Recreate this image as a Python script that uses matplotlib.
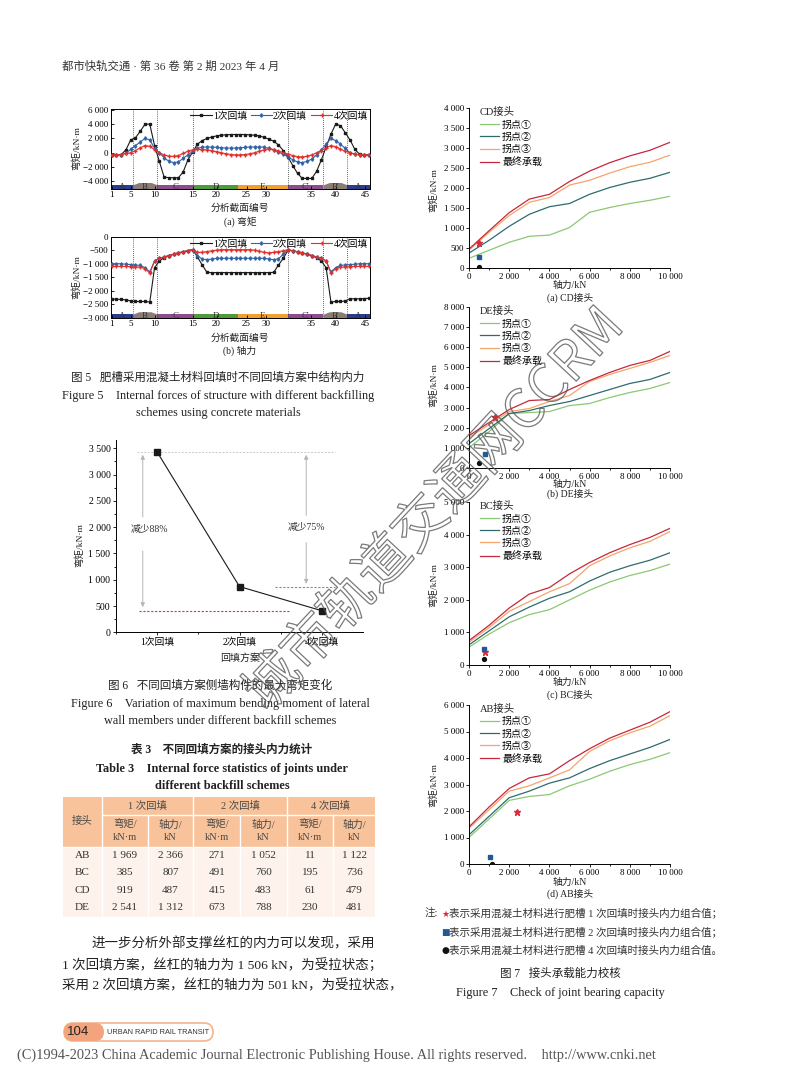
"""
Journal page: fig 5 (section forces), fig 6 (max moment), table 3, fig 7 (joint capacity)
"""

import numpy as np
import matplotlib
matplotlib.use("Agg")
import matplotlib.pyplot as plt
from matplotlib import patheffects
from matplotlib.patches import Rectangle, FancyBboxPatch
from matplotlib.ticker import FuncFormatter, MultipleLocator

W, H = 800, 1086
plt.rcParams["font.family"] = ["Liberation Serif", "Noto Sans CJK SC", "DejaVu Sans"]
plt.rcParams["axes.linewidth"] = 0.7
plt.rcParams["xtick.major.width"] = 0.6
plt.rcParams["ytick.major.width"] = 0.6

# ---- fig 5 data: one value per plotted section point ----
SECTION_IDX = np.arange(55)
XTICK_POS = [0, 4, 9, 17, 22, 28.3, 32.3, 41.9, 47, 53.2]
XTICK_LAB = ["1", "5", "10", "15", "20", "25", "30", "35", "40", "45"]
REGION_EDGES = [-0.2, 4.4, 9.57, 17.12, 26.55, 36.9, 44.37, 49.4, 54.2]
REGION_NAMES = ["A", "B", "C", "D", "E", "C'", "B'", "A"]

M1 = [-300, -300, -250, 400, 1800, 2100, 3000, 4000, 4000, 1000,
      -1200, -3400, -3500, -3500, -3500, -2700, -1000, 100, 1200, 1700,
      2000, 2200, 2350, 2450, 2500, 2550, 2550, 2550, 2550, 2500,
      2450, 2350, 2150, 1900, 1600, 1100, 300, -600, -1800, -2900,
      -3600, -3600, -3600, -2600, -1000, 800, 2600, 4000, 3800, 2800,
      1800, 500, -200, -350, -350]
M2 = [-300, -300, -250, -100, 500, 1000, 1500, 2000, 1800, 600,
      0, -700, -1200, -1400, -1300, -800, -300, 200, 600, 800,
      800, 800, 750, 700, 650, 650, 650, 700, 750, 800,
      800, 800, 800, 600, 400, 100, -200, -600, -1000, -1300,
      -1400, -1200, -900, -300, 400, 1200, 2000, 1700, 1200, 600,
      0, -200, -300, -300, -300]
M4 = [-300, -300, -250, -100, 0, 300, 700, 1000, 900, 400,
      0, -300, -500, -500, -400, -100, 200, 400, 500, 450,
      400, 300, 150, 0, -150, -250, -300, -300, -250, -150,
      0, 200, 400, 550, 450, 250, 0, -200, -400, -550,
      -600, -500, -300, 0, 300, 700, 1000, 850, 500, 200,
      0, -200, -300, -300, -300]
N1 = [-2300, -2320, -2320, -2340, -2380, -2400, -2400, -2400, -2420, -1150,
      -900, -780, -700, -650, -600, -560, -520, -480, -750, -1050,
      -1320, -1330, -1330, -1330, -1330, -1330, -1330, -1330, -1330, -1330,
      -1330, -1330, -1330, -1330, -1320, -1050, -800, -500, -520, -560,
      -600, -650, -700, -780, -900, -1150, -2420, -2400, -2400, -2380,
      -2300, -2300, -2300, -2290, -2280]
N2 = [-1000, -1000, -1000, -1020, -1030, -1050, -1060, -1150, -1300, -900,
      -800, -750, -700, -650, -600, -560, -520, -480, -700, -830,
      -850, -830, -800, -800, -800, -800, -800, -800, -800, -800,
      -800, -800, -800, -830, -850, -820, -650, -480, -520, -560,
      -600, -650, -700, -750, -800, -900, -1300, -1150, -1060, -1050,
      -1030, -1020, -1000, -1000, -1000]
N4 = [-1100, -1100, -1100, -1100, -1110, -1120, -1130, -1180, -1350, -900,
      -800, -750, -700, -650, -600, -560, -520, -480, -580, -580,
      -550, -520, -500, -480, -480, -480, -480, -480, -480, -480,
      -500, -540, -580, -600, -580, -550, -520, -480, -520, -560,
      -600, -650, -700, -750, -800, -900, -1350, -1180, -1130, -1120,
      -1110, -1100, -1100, -1100, -1100]

# ---- fig 6 data ----
SCHEMES = ["1次回填", "2次回填", "4次回填"]
MAX_M = [3430, 870, 410]

# ---- table 3 ----
JOINTS = ["AB", "BC", "CD", "DE"]
TABLE_ROWS = [
    ["1 969", "2 366", "271", "1 052", "11", "1 122"],
    ["385", "807", "491", "760", "195", "736"],
    ["919", "487", "415", "483", "61", "479"],
    ["2 541", "1 312", "673", "788", "230", "481"],
]

# ---- fig 7 data: moment capacity vs axial force ----
AXIAL = [0, 1000, 2000, 3000, 4000, 5000, 6000, 7000, 8000, 9000, 10000]
CURVE_NAMES = ["拐点①", "拐点②", "拐点③", "最终承载"]
CD = [[250, 450, 650, 800, 830, 1020, 1400, 1520, 1620, 1700, 1800],
      [380, 700, 1050, 1350, 1540, 1620, 1850, 2020, 2150, 2250, 2400],
      [450, 900, 1320, 1650, 1770, 2080, 2200, 2380, 2540, 2650, 2830],
      [480, 940, 1390, 1730, 1850, 2170, 2430, 2640, 2810, 2950, 3150]]
DE = [[1000, 1800, 2700, 2750, 2800, 3100, 3200, 3500, 3750, 3950, 4250],
      [1200, 1950, 2700, 2850, 3100, 3300, 3600, 3900, 4200, 4400, 4750],
      [1500, 2150, 2800, 2950, 3300, 3600, 4300, 4650, 4950, 5250, 5600],
      [1600, 2250, 2900, 3350, 3400, 3900, 4350, 4750, 5100, 5350, 5800]]
BC = [[550, 950, 1300, 1550, 1700, 2000, 2300, 2550, 2750, 2900, 3100],
      [620, 1050, 1480, 1780, 2050, 2250, 2580, 2850, 3050, 3220, 3450],
      [700, 1150, 1650, 1950, 2250, 2500, 3050, 3350, 3600, 3800, 4100],
      [750, 1220, 1750, 2180, 2380, 2800, 3150, 3450, 3700, 3920, 4200]]
AB = [[1000, 1700, 2400, 2550, 2620, 2950, 3200, 3500, 3750, 3950, 4200],
      [1100, 1800, 2500, 2750, 3050, 3250, 3600, 3900, 4150, 4400, 4700],
      [1350, 2050, 2750, 2950, 3250, 3550, 4250, 4650, 4950, 5200, 5600],
      [1400, 2150, 2850, 3250, 3400, 3900, 4350, 4750, 5050, 5350, 5750]]
# joint force points (axial, moment) for backfill 1, 2, 4
CD_PTS = [(490, 620), (490, 270), (480, 40)]
DE_PTS = [(1312, 2541), (788, 673), (481, 230)]
BC_PTS = [(807, 385), (760, 491), (736, 195)]
AB_PTS = [(2366, 1969), (1052, 271), (1122, 11)]

fig = plt.figure(figsize=(W / 100, H / 100), dpi=100)


def px_axes(left, top, right, bottom, **kw):
    return fig.add_axes([left / W, 1 - bottom / H, (right - left) / W, (bottom - top) / H], **kw)


def ftext(x, y, s, **kw):
    kw.setdefault("ha", "center")
    kw.setdefault("va", "center")
    kw.setdefault("color", "#222222")
    fig.text(x / W, 1 - y / H, s, **kw)


def thousands(v, _pos):
    s = f"{abs(int(round(v))):,}".replace(",", " ")
    return ("−" if v < 0 else "") + s


FMT = FuncFormatter(thousands)

# header
ftext(62, 66, "都市快轨交通 · 第 36 卷 第 2 期 2023 年 4 月", ha="left", fontsize=8.2,
      color="#333333")

# ---------------- figure 5 ----------------
BAND_COLORS = ["#2b3c8e", "#8b7d74", "#8e4c8e", "#4e9a3c", "#f0a02c", "#8e4c8e", "#8b7d74", "#2b3c8e"]


def draw_bands(ax, y0, y1, bump):
    for i, name in enumerate(REGION_NAMES):
        x0, x1 = REGION_EDGES[i], REGION_EDGES[i + 1]
        if name.startswith("B"):
            xs = [x0, x0 + 1.3, x1 - 1.3, x1]
            ys = [y1, y1 + bump, y1 + bump, y1]
        else:
            xs, ys = [x0, x1], [y1, y1]
        ax.fill_between(xs, y0, ys, color=BAND_COLORS[i], lw=0, zorder=1)
        ax.text((x0 + x1) / 2, (y0 + y1) / 2, name, ha="center", va="center",
                fontsize=6.5, color="#333333", zorder=2)


def fig5_panel(ax, s1, s2, s4, ylim, ticks, band):
    ax.plot(SECTION_IDX, s1, color="#1a1a1a", lw=0.8, marker="s", ms=1.8, label="1次回填", zorder=4)
    ax.plot(SECTION_IDX, s2, color="#2f64a6", lw=0.8, marker="d", ms=1.8, label="2次回填", zorder=4)
    ax.plot(SECTION_IDX, s4, color="#e0302c", lw=0.8, marker="+", ms=2.5, label="4次回填", zorder=4)
    for xv in REGION_EDGES[1:4] + REGION_EDGES[5:8]:
        ax.axvline(xv, color="#333333", lw=0.6, ls=(0, (1, 1.5)), zorder=3)
    draw_bands(ax, ylim[0], band[0], band[1])
    ax.set_xlim(REGION_EDGES[0], REGION_EDGES[-1])
    ax.set_ylim(*ylim)
    ax.set_xticks(XTICK_POS)
    ax.set_xticklabels(XTICK_LAB)
    ax.set_yticks(ticks)
    ax.yaxis.set_major_formatter(FMT)
    ax.tick_params(direction="in", length=2, labelsize=6.5, pad=1.5)
    ax.legend(loc="upper right", ncol=3, frameon=False, fontsize=7, handlelength=2.2,
              columnspacing=0.4, handletextpad=0.1, borderaxespad=0.15, borderpad=0.1)


ax5a = px_axes(110.7, 109, 370, 189)
fig5_panel(ax5a, M1, M2, M4, (-5080, 6120), [-4000, -2000, 0, 2000, 4000, 6000], (-4500, 330))
ftext(76, 148, "弯矩/kN·m", rotation=90, fontsize=6.8)
ftext(240, 208, "分析截面编号", fontsize=7)
ftext(240, 222, "(a) 弯矩", fontsize=7)

ax5b = px_axes(110.7, 236.7, 370, 317.7)
fig5_panel(ax5b, N1, N2, N4, (-3000, 0), np.arange(-3000, 1, 500), (-2870, 90))
ftext(76, 277, "弯矩/kN·m", rotation=90, fontsize=6.8)
ftext(240, 338, "分析截面编号", fontsize=7)
ftext(240, 351, "(b) 轴力", fontsize=7)

ftext(218, 378, "图 5   肥槽采用混凝土材料回填时不同回填方案中结构内力", fontsize=8.3)
ftext(218, 396, "Figure 5    Internal forces of structure with different backfilling", fontsize=8.8)
ftext(218, 413, "schemes using concrete materials", fontsize=8.8)

# ---------------- figure 6 ----------------
ax6 = px_axes(116, 440, 363, 632.3)
xc = np.arange(len(SCHEMES))
ax6.plot(xc, MAX_M, color="#1a1a1a", lw=0.8, marker="s", ms=4.5, zorder=4)
ax6.plot([-0.25, 2.155], [MAX_M[0]] * 2, color="#c8c8c8", lw=0.7, ls=(0, (2, 1.5)))
ax6.plot([-0.22, 1.6], [MAX_M[2]] * 2, color="#d03c3c", lw=0.8, ls=(0, (2, 1.5)))
ax6.plot([1.43, 2.155], [MAX_M[1]] * 2, color="#6f8fb0", lw=0.8, ls=(0, (2, 1.5)))
arrow = dict(arrowstyle="-|>", color="#b5b5b5", lw=0.7, mutation_scale=6)
ax6.annotate("", xy=(-0.175, MAX_M[0]), xytext=(-0.175, 2140), arrowprops=arrow)
ax6.annotate("", xy=(-0.175, MAX_M[2] + 15), xytext=(-0.175, 1600), arrowprops=arrow)
ax6.annotate("", xy=(1.81, MAX_M[0]), xytext=(1.81, 2170), arrowprops=arrow)
ax6.annotate("", xy=(1.81, MAX_M[1]), xytext=(1.81, 1760), arrowprops=arrow)
ax6.text(-0.1, 1950, "减少88%", ha="center", va="center", fontsize=7, color="#333333")
ax6.text(1.81, 2000, "减少75%", ha="center", va="center", fontsize=7, color="#333333")
ax6.set_xlim(-0.5, 2.5)
ax6.set_ylim(0, 3658)
ax6.set_xticks(xc)
ax6.set_xticklabels(SCHEMES)
ax6.set_xticks([-0.5, 0.5, 1.5], minor=True)
ax6.set_yticks(np.arange(0, 3501, 500))
ax6.yaxis.set_major_formatter(FMT)
ax6.yaxis.set_minor_locator(MultipleLocator(250))
for side in ("top", "right"):
    ax6.spines[side].set_visible(False)
ax6.tick_params(direction="out", length=2.5, labelsize=7, pad=1.5)
ax6.tick_params(which="minor", direction="out", length=1.5)
ftext(79, 545, "弯矩/kN·m", rotation=90, fontsize=6.8)
ftext(240, 658, "回填方案", fontsize=7.2)

ftext(220, 686, "图 6   不同回填方案侧墙构件的最大弯矩变化", fontsize=8.3)
ftext(220, 704, "Figure 6    Variation of maximum bending moment of lateral", fontsize=8.8)
ftext(220, 721, "wall members under different backfill schemes", fontsize=8.8)

# ---------------- table 3 ----------------
ftext(222, 750, "表 3    不同回填方案的接头内力统计", fontsize=8.3, fontweight="bold")
ftext(222, 769, "Table 3    Internal force statistics of joints under", fontsize=8.8, fontweight="bold")
ftext(222, 786, "different backfill schemes", fontsize=8.8, fontweight="bold")

COL_EDGES = [62.7, 101.7, 147.7, 193.3, 240, 286.7, 333.3, 375]
ROW_EDGES = [796.7, 815, 846.7, 864.2, 881.7, 899.2, 916.7]
tab = px_axes(COL_EDGES[0], ROW_EDGES[0], COL_EDGES[-1], ROW_EDGES[-1])
tab.set_xlim(COL_EDGES[0], COL_EDGES[-1])
tab.set_ylim(ROW_EDGES[-1], ROW_EDGES[0])
tab.axis("off")
tab.add_patch(Rectangle((COL_EDGES[0], ROW_EDGES[0]), COL_EDGES[-1] - COL_EDGES[0],
                        ROW_EDGES[2] - ROW_EDGES[0], color="#f8c39a", lw=0))
tab.add_patch(Rectangle((COL_EDGES[0], ROW_EDGES[2]), COL_EDGES[-1] - COL_EDGES[0],
                        ROW_EDGES[-1] - ROW_EDGES[2], color="#fdf3ec", lw=0))
WL = dict(color="white", lw=1.0)
tab.plot([COL_EDGES[1]] * 2, [ROW_EDGES[0], ROW_EDGES[-1]], **WL)
tab.plot([COL_EDGES[1], COL_EDGES[-1]], [ROW_EDGES[1]] * 2, **WL)
tab.plot([COL_EDGES[0], COL_EDGES[-1]], [ROW_EDGES[2]] * 2, **WL)
for c in (3, 5):
    tab.plot([COL_EDGES[c]] * 2, [ROW_EDGES[0], ROW_EDGES[-1]], **WL)
for c in (2, 4, 6):
    tab.plot([COL_EDGES[c]] * 2, [ROW_EDGES[1], ROW_EDGES[-1]], **WL)
HK = dict(ha="center", va="center", fontsize=7.5, color="#4a4a4a")
tab.text((COL_EDGES[0] + COL_EDGES[1]) / 2, 821, "接头", **HK)
for g, name in enumerate(["1 次回填", "2 次回填", "4 次回填"]):
    tab.text((COL_EDGES[1 + 2 * g] + COL_EDGES[3 + 2 * g]) / 2, 805.8, name, **HK)
    tab.text((COL_EDGES[1 + 2 * g] + COL_EDGES[2 + 2 * g]) / 2, 824.5, "弯矩/", **HK)
    tab.text((COL_EDGES[1 + 2 * g] + COL_EDGES[2 + 2 * g]) / 2, 837.5, "kN·m", **HK)
    tab.text((COL_EDGES[2 + 2 * g] + COL_EDGES[3 + 2 * g]) / 2, 824.5, "轴力/", **HK)
    tab.text((COL_EDGES[2 + 2 * g] + COL_EDGES[3 + 2 * g]) / 2, 837.5, "kN", **HK)
for r, (joint, row) in enumerate(zip(JOINTS, TABLE_ROWS)):
    yc = (ROW_EDGES[2 + r] + ROW_EDGES[3 + r]) / 2
    tab.text((COL_EDGES[0] + COL_EDGES[1]) / 2, yc, joint, ha="center", va="center",
             fontsize=8, color="#333333")
    for c, val in enumerate(row):
        tab.text((COL_EDGES[1 + c] + COL_EDGES[2 + c]) / 2, yc, val, ha="center", va="center",
                 fontsize=8, color="#333333")

# body text
BODY = dict(ha="left", fontsize=9.7, color="#222222")
ftext(92, 944, "进一步分析外部支撑丝杠的内力可以发现，采用", **BODY)
ftext(62, 965, "1 次回填方案，丝杠的轴力为 1 506 kN，为受拉状态；", **BODY)
ftext(62, 986, "采用 2 次回填方案，丝杠的轴力为 501 kN，为受拉状态，", **BODY)

# ---------------- figure 7 ----------------
LINE_COLORS = ["#8cc872", "#2f6b6e", "#f5a46a", "#c4283e"]


def fig7_panel(box, curves, pts, title, ytop, ystep, cap, ylab_y, xlab_y, cap_y):
    ax = px_axes(*box)
    for vals, name, col in zip(curves, CURVE_NAMES, LINE_COLORS):
        ax.plot(AXIAL, vals, color=col, lw=0.9, label=name)
    ax.plot(*pts[0], marker="*", color="#e0283c", ms=4.5, ls="none", zorder=5)
    ax.plot(*pts[1], marker="s", color="#1f5a96", ms=2.6, ls="none", zorder=5)
    ax.plot(*pts[2], marker="o", color="#111111", ms=2.8, ls="none", zorder=5)
    ax.set_xlim(0, 10000)
    ax.set_ylim(0, ytop)
    ax.set_xticks(np.arange(0, 10001, 2000))
    ax.xaxis.set_minor_locator(MultipleLocator(1000))
    ax.set_yticks(np.arange(0, ytop + 1, ystep))
    ax.xaxis.set_major_formatter(FMT)
    ax.yaxis.set_major_formatter(FMT)
    for side in ("top", "right"):
        ax.spines[side].set_visible(False)
    ax.tick_params(direction="out", length=2.5, labelsize=6.5, pad=1)
    ax.tick_params(which="minor", direction="out", length=1.5)
    leg = ax.legend(title=title, loc="upper left", bbox_to_anchor=(0.02, 1.05), frameon=False,
                    fontsize=7.2, title_fontsize=7.5, handlelength=1.9, handletextpad=0.3,
                    labelspacing=0.32, alignment="left", borderpad=0.2)
    leg.get_title().set_color("#222222")
    ftext(433, ylab_y, "弯矩/kN·m", rotation=90, fontsize=6.8)
    ftext(570, xlab_y, "轴力/kN", fontsize=7)
    ftext(570, cap_y, cap, fontsize=7)


fig7_panel((469, 108.3, 670, 268.3), CD, CD_PTS, "CD接头", 4000, 500, "(a) CD接头", 190, 285, 298)
fig7_panel((469, 307.3, 670, 467.7), DE, DE_PTS, "DE接头", 8000, 1000, "(b) DE接头", 385, 484.5, 494)
fig7_panel((469, 502.3, 670, 665), BC, BC_PTS, "BC接头", 5000, 1000, "(c) BC接头", 585, 682, 695)
fig7_panel((469, 705, 670, 864), AB, AB_PTS, "AB接头", 6000, 1000, "(d) AB接头", 785, 882, 894)

NOTE = dict(ha="left", fontsize=7.6, color="#333333")
ftext(425, 914, "注:", **NOTE)
ftext(441, 914, "★", ha="left", fontsize=6.5, color="#e0283c", family="DejaVu Sans")
ftext(449, 914, "表示采用混凝土材料进行肥槽 1 次回填时接头内力组合值；", **NOTE)
ftext(441, 933, "■", ha="left", fontsize=6.5, color="#1f5a96", family="DejaVu Sans")
ftext(449, 933, "表示采用混凝土材料进行肥槽 2 次回填时接头内力组合值；", **NOTE)
ftext(441, 951, "●", ha="left", fontsize=6.5, color="#111111", family="DejaVu Sans")
ftext(449, 951, "表示采用混凝土材料进行肥槽 4 次回填时接头内力组合值。", **NOTE)
ftext(560, 974, "图 7   接头承载能力校核", fontsize=8.3)
ftext(560, 993, "Figure 7    Check of joint bearing capacity", fontsize=8.8)

# ---------------- page overlay: footer, watermark ----------------
page = px_axes(0, 0, W, H, zorder=20)
page.set_xlim(0, W)
page.set_ylim(H, 0)
page.axis("off")
page.patch.set_alpha(0)
page.add_patch(FancyBboxPatch((64, 1023), 149, 18, boxstyle="round,pad=0,rounding_size=9",
                              fc="white", ec="#f4b48c", lw=1.2))
page.add_patch(FancyBboxPatch((64, 1023), 40, 18, boxstyle="round,pad=0,rounding_size=9",
                              fc="#f4a47c", ec="none"))
page.text(67, 1032, "104", ha="left", va="center", fontsize=9.5, color="#222222",
          family="Liberation Sans")
page.text(107, 1032, "URBAN RAPID RAIL TRANSIT", ha="left", va="center", fontsize=5.3,
          color="#333333", family="Liberation Sans")
page.text(17, 1055, "(C)1994-2023 China Academic Journal Electronic Publishing House. "
          "All rights reserved.    http://www.cnki.net", ha="left", va="center",
          fontsize=10.4, color="#555555")
wm = page.text(435, 510, "城市轨道交通网CCRM", ha="center", va="center", rotation=47,
               fontsize=39, color=(1, 1, 1, 0), family=["Noto Sans CJK SC"])
wm.set_path_effects([patheffects.Stroke(linewidth=0.9, foreground=(0.35, 0.35, 0.35, 0.8))])

fig.savefig("out.png", dpi=100)
